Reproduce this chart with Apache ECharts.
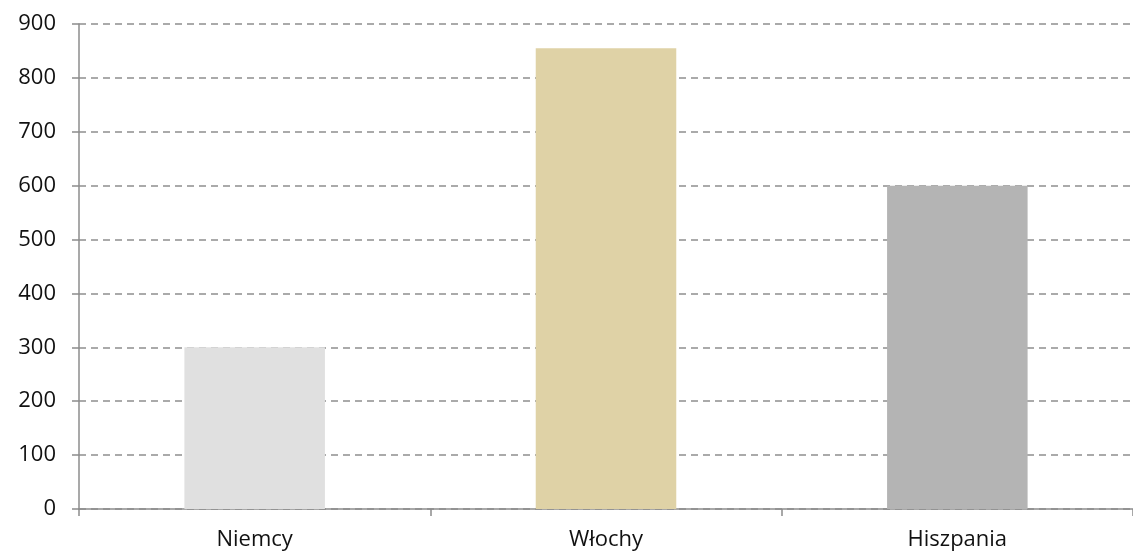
<!DOCTYPE html>
<html>
<head>
<meta charset="utf-8">
<script src="https://cdn.jsdelivr.net/npm/echarts@6/dist/echarts.min.js"></script>
<style>
  html, body { margin: 0; padding: 0; background: #fff; }
  #chart { width: 1133px; height: 557px; }
</style>
</head>
<body>
<div id="chart"></div>
<script>
const categories = ["Niemcy", "Włochy", "Hiszpania"];
const values = [300, 855, 600];
const barColors = ["#e0e0e0", "#dfd2a6", "#b4b4b4"];

const chart = echarts.init(document.getElementById("chart"));

const option = {
  animation: false,
  grid: { left: 79, right: 0, top: 24, bottom: 48 },
  xAxis: {
    type: "category",
    data: categories,
    axisLine: { lineStyle: { color: "#8c8c8c", width: 1.5 } },
    axisTick: { show: true, length: 7, lineStyle: { color: "#8c8c8c", width: 1.5 } },
    axisLabel: { color: "#111", fontSize: 22, fontFamily: "Open Sans", margin: 20 },
  },
  yAxis: {
    type: "value",
    min: 0,
    max: 900,
    interval: 100,
    axisLine: { show: true, lineStyle: { color: "#8c8c8c", width: 1.5 } },
    axisTick: { show: true, inside: false, length: 7, lineStyle: { color: "#8c8c8c", width: 1.5 } },
    axisLabel: { color: "#111", fontSize: 22, fontFamily: "Open Sans", margin: 23 },
    splitLine: { show: true, lineStyle: { color: "#aaaaaa", type: [7, 5], width: 2 } },
  },
  series: [
    {
      type: "bar",
      barWidth: "40%",
      data: values.map((v, i) => ({ value: v, itemStyle: { color: barColors[i] } })),
    },
  ],
};

chart.setOption(option);
</script>
</body>
</html>
